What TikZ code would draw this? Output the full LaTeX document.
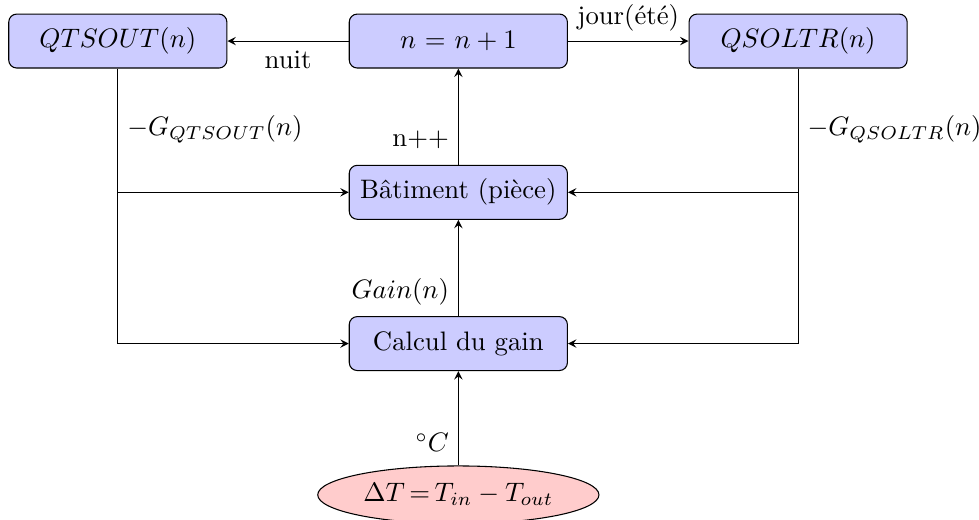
\documentclass[tikz,border=0pt]{standalone}
\usepackage{amsmath, amssymb}
\usepackage{tikz}
\usetikzlibrary{shapes.geometric}

\begin{document}
\begin{tikzpicture}[>=stealth,x=1cm,y=1cm,
    bloc/.style={draw,rounded corners=3pt,fill=blue!20,
        minimum width=2.87cm,minimum height=0.71cm},
    source/.style={draw,ellipse,fill=red!20,inner sep=0pt,
        minimum width=3.70cm,minimum height=0.76cm}]
    \useasboundingbox (0,0) rectangle (12.88,6.83);

    \node[bloc] (qtsout) at (1.55,6.29) {\(QTSOUT(n)\)};
    \node[bloc] (incr) at (6.03,6.29) {\(n\) = \(n+1\)};
    \node[bloc] (qsoltr) at (10.50,6.29) {\(QSOLTR(n)\)};
    \node[bloc] (batiment) at (6.03,4.30) {Bâtiment (pièce)};
    \node[bloc] (calcul) at (6.03,2.31) {Calcul du gain};
    \node[source] (delta) at (6.03,0.32)
        {\(\Delta T\,{=}\,T_{in}-T_{out}\)};

    \draw[->] (incr.west) -- node[below] {nuit} (qtsout.east);
    \draw[->] (incr.east) -- node[above] {jour(été)} (qsoltr.west);
    \draw[->] (batiment.north) -- node[left,pos=0.26] {n++} (incr.south);
    \draw[->] (calcul.north) -- node[left,pos=0.25] {\(Gain(n)\)}
        (batiment.south);
    \draw[->] (delta.north) -- node[left,pos=0.24] {\(^\circ C\)}
        (calcul.south);

    \draw[->] (qtsout.south) |- node[right,pos=0.11]
        {\(-G_{QTSOUT}(n)\)} (calcul.west);
    \draw[->] (qtsout.south |- batiment.west) -- (batiment.west);
    \draw[->] (qsoltr.south) |- node[right,pos=0.11]
        {\(-G_{QSOLTR}(n)\)} (calcul.east);
    \draw[->] (qsoltr.south |- batiment.east) -- (batiment.east);
\end{tikzpicture}
\end{document}
